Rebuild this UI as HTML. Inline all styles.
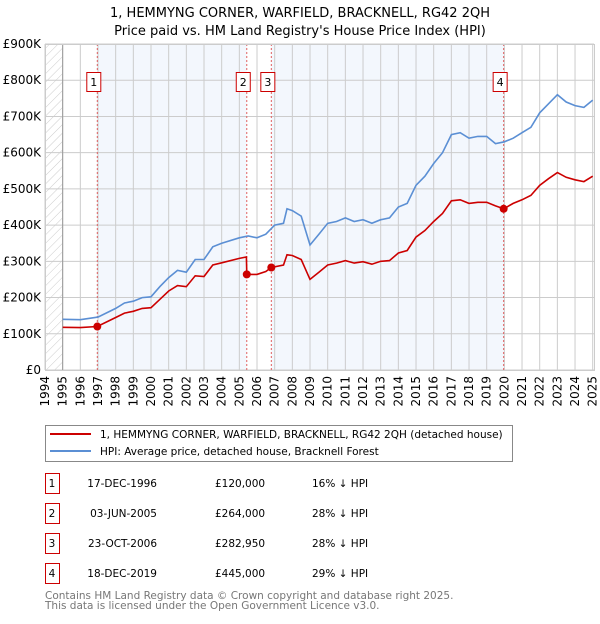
<!DOCTYPE html>
<html><head><meta charset="utf-8">
<style>
body{margin:0;background:#fff;font-family:"DejaVu Sans","Liberation Sans",sans-serif;}
svg text{font-family:"DejaVu Sans","Liberation Sans",sans-serif;}
</style></head>
<body>
<svg id="chart" width="600" height="620" viewBox="0 0 600 620">
<defs>
<pattern id="hatch" width="6" height="6" patternUnits="userSpaceOnUse" patternTransform="rotate(45)">
<line x1="0" y1="0" x2="0" y2="6" stroke="#ccc" stroke-width="1"/>
</pattern>
</defs>
<text x="300" y="17" text-anchor="middle" font-size="13">1, HEMMYNG CORNER, WARFIELD, BRACKNELL, RG42 2QH</text>
<text x="300" y="35" text-anchor="middle" font-size="13">Price paid vs. HM Land Registry's House Price Index (HPI)</text>
<g id="plot"></g>
<g>
<rect x="45.5" y="425.5" width="467" height="36" fill="#fff" stroke="#888"/>
<line x1="50" y1="434" x2="91" y2="434" stroke="#cc0000" stroke-width="2"/>
<text x="100" y="438" font-size="10.5">1, HEMMYNG CORNER, WARFIELD, BRACKNELL, RG42 2QH (detached house)</text>
<line x1="50" y1="451" x2="91" y2="451" stroke="#5b8fd4" stroke-width="2"/>
<text x="100" y="455" font-size="10.5">HPI: Average price, detached house, Bracknell Forest</text>
</g>
<g id="table" font-size="10.5"></g>
<text x="45" y="599" font-size="10.5" fill="#777">Contains HM Land Registry data © Crown copyright and database right 2025.</text>
<text x="45" y="609" font-size="10.5" fill="#777">This data is licensed under the Open Government Licence v3.0.</text>
</svg>
<script>
const hpiYears=[1995,1996,1997,1998,1998.5,1999,1999.5,2000,2000.5,2001,2001.5,2002,2002.5,2003,2003.5,2004,2005,2005.5,2006,2006.5,2007,2007.5,2007.7,2008,2008.5,2009,2009.5,2010,2010.5,2011,2011.5,2012,2012.5,2013,2013.5,2014,2014.5,2015,2015.5,2016,2016.5,2017,2017.5,2018,2018.5,2019,2019.5,2020,2020.5,2021,2021.5,2022,2022.5,2023,2023.5,2024,2024.5,2025];
const hpiValues=[140,139,146,170,185,190,200,202,230,255,275,270,305,305,340,350,365,370,365,375,400,405,445,440,425,345,375,405,410,420,410,415,405,415,420,450,460,510,535,570,600,650,655,640,645,645,625,630,640,655,670,710,735,760,740,730,725,745];
const propYears=[1995,1996,1996.96,1998,1998.5,1999,1999.5,2000,2000.5,2001,2001.5,2002,2002.5,2003,2003.5,2004,2005,2005.4,2005.42,2006,2006.5,2006.81,2007.5,2007.7,2008,2008.5,2009,2009.5,2010,2010.5,2011,2011.5,2012,2012.5,2013,2013.5,2014,2014.5,2015,2015.5,2016,2016.5,2017,2017.5,2018,2018.5,2019,2019.5,2019.96,2020.5,2021,2021.5,2022,2022.5,2023,2023.5,2024,2024.5,2025];
const propValues=[118,117,120,145,157,162,170,172,195,218,233,230,260,258,290,296,308,312,264,264,272,283,290,318,316,305,250,270,290,295,302,295,299,292,300,302,323,330,367,385,410,432,467,470,460,463,463,453,445,460,470,482,510,528,545,532,525,520,535];
const saleLabels=["1","2","3","4"];
const saleYears=[1996.96,2005.42,2006.81,2019.96];
const salePrices=[120,264,282.95,445];
const saleDates=["17-DEC-1996","03-JUN-2005","23-OCT-2006","18-DEC-2019"];
const salePriceText=["£120,000","£264,000","£282,950","£445,000"];
const saleHpiText=["16% ↓ HPI","28% ↓ HPI","28% ↓ HPI","29% ↓ HPI"];
const yTicks=[0,100,200,300,400,500,600,700,800,900];
const yTickLabels=["£0","£100K","£200K","£300K","£400K","£500K","£600K","£700K","£800K","£900K"];
const xTicks=[1994,1995,1996,1997,1998,1999,2000,2001,2002,2003,2004,2005,2006,2007,2008,2009,2010,2011,2012,2013,2014,2015,2016,2017,2018,2019,2020,2021,2022,2023,2024,2025];

const NS="http://www.w3.org/2000/svg";
const L=45,R=594,T=44,B=370;
const xs=y=>L+(y-1994)*(593-45.3)/31;
const ys=v=>B-(v/900)*(B-T);
function mk(tag,attrs,parent){const e=document.createElementNS(NS,tag);for(const k in attrs)e.setAttribute(k,attrs[k]);parent.appendChild(e);return e;}
const plot=document.getElementById('plot');
let h=mk('rect',{x:L,y:T,width:xs(1995)-L,height:B-T,fill:'url(#hatch)'},plot);


const shadeStarts=[saleYears[0],saleYears[2]],shadeEnds=[saleYears[1],saleYears[3]];
for(let i=0;i<2;i++){
 const r=mk('rect',{x:xs(shadeStarts[i]),y:T,width:xs(shadeEnds[i])-xs(shadeStarts[i]),height:B-T,fill:'#eef3fc',opacity:0.7},plot);
 
 
}
yTicks.forEach((v,i)=>{
 const g=mk('line',{x1:L,x2:R,y1:ys(v),y2:ys(v),stroke:'#ccc','stroke-width':1},plot);
 
 
 const t=mk('text',{x:L-4,y:ys(v)+4,'text-anchor':'end','font-size':12},plot);
 t.textContent=yTickLabels[i];
 
 
});
xTicks.forEach(y=>{
 const g=mk('line',{x1:xs(y),x2:xs(y),y1:T,y2:B,stroke:'#ccc','stroke-width':1},plot);
 
 
 const t=mk('text',{x:0,y:0,'text-anchor':'end','font-size':12,transform:`translate(${xs(y)+4},${B+6}) rotate(-90)`},plot);
 t.textContent=y;
 
 
});
let ax=mk('line',{x1:xs(1995),x2:xs(1995),y1:T,y2:B,stroke:'#999'},plot);


saleYears.forEach((y,i)=>{
 const l=mk('line',{x1:xs(y),x2:xs(y),y1:T,y2:B,stroke:'#e06060','stroke-dasharray':'2,2','stroke-width':1},plot);
 
 
 const b=mk('rect',{x:xs(y)-10.5,y:72.5,width:14,height:19,fill:'#fff',stroke:'#cc0000'},plot);
 
 
 const t=mk('text',{x:xs(y)-3.5,y:86,'text-anchor':'middle','font-size':11},plot);
 t.textContent=saleLabels[i];
 
 
});
function path(xsArr,vsArr){return xsArr.map((y,i)=>(i?'L':'M')+xs(y).toFixed(1)+','+ys(vsArr[i]).toFixed(1)).join('');}
const hp=mk('path',{d:path(hpiYears,hpiValues),fill:'none',stroke:'#5b8fd4','stroke-width':1.6},plot);


const pp=mk('path',{d:path(propYears,propValues),fill:'none',stroke:'#cc0000','stroke-width':1.6},plot);


saleYears.forEach((y,i)=>{
 const c=mk('circle',{cx:xs(y),cy:ys(salePrices[i]),r:4,fill:'#cc0000'},plot);
 
 
});
let fr=mk('rect',{x:L+0.5,y:T+0.5,width:R-L,height:B-T,fill:'none',stroke:'#ccc'},plot);


const tb=document.getElementById('table');
const rowY=[483,513,543,573];
saleLabels.forEach((s,i)=>{
 const y=rowY[i];
 const b=mk('rect',{x:45.5,y:y-9.5,width:14,height:20,fill:'#fff',stroke:'#cc0000'},tb);
 
 
 const c=[[52,s,'middle'],[157,saleDates[i],'end'],[215,salePriceText[i],'start'],[312,saleHpiText[i],'start']];
 c.forEach(([x,txt,a],j)=>{
  const t=mk('text',{x:x,y:y+4,'text-anchor':a,'font-size':10.5},tb);
  t.textContent=txt;
  
  
 });
});
</script>
</body></html>
